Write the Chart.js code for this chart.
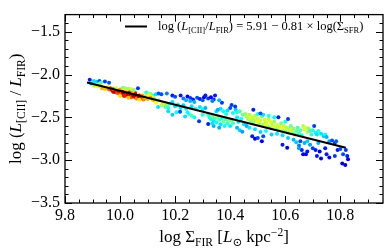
<!DOCTYPE html>
<html>
<head>
<meta charset="utf-8">
<script src="https://cdn.jsdelivr.net/npm/chart.js@4"></script>
<style>
  html, body { margin: 0; padding: 0; background: #fff; }
  #wrap { width: 390px; height: 250px; }
</style>
</head>
<body>
<div id="wrap"><canvas id="cii"></canvas></div>
<script>
// ticks
const xTicks = [9.8, 10.0, 10.2, 10.4, 10.6, 10.8];
const xMinor = [9.85, 9.9, 9.95, 10.05, 10.1, 10.15, 10.25, 10.3, 10.35, 10.45, 10.5, 10.55, 10.65, 10.7, 10.75, 10.85, 10.9];
const yTicks = [-3.5, -3.0, -2.5, -2.0, -1.5];
const yMinor = [-3.4, -3.3, -3.2, -3.1, -2.9, -2.8, -2.7, -2.6, -2.4, -2.3, -2.2, -2.1, -1.9, -1.8, -1.7, -1.6, -1.4];

// fit line end points (log L[CII]/L_FIR = 5.91 - 0.81 log Sigma)
const fitX = [9.88, 10.82];
const fitY = [-2.093, -2.854];

// points: log Sigma_FIR, log ratio, colour value (0 blue .. 1 red)
const pts = [
  [9.89,-2.06,0.15],[9.905,-2.075,0.35],[9.915,-2.085,0.33],[9.925,-2.075,0.2],[9.93,-2.095,0.4],[9.945,-2.08,0.18],[9.96,-2.095,0.2],[9.895,-2.105,0.3],[9.91,-2.115,0.45],
  [9.905,-2.13,0.55],[9.92,-2.14,0.6],[9.93,-2.135,0.65],[9.94,-2.15,0.62],[9.935,-2.16,0.7],[9.95,-2.155,0.72],[9.945,-2.17,0.68],[9.955,-2.14,0.62],[9.96,-2.175,0.78],[9.965,-2.16,0.8],[9.915,-2.125,0.62],[9.925,-2.11,0.5],
  [9.97,-2.18,0.88],[9.975,-2.19,0.9],[9.98,-2.17,0.85],[9.985,-2.2,0.92],[9.99,-2.185,0.95],[9.995,-2.21,0.9],[10.0,-2.195,0.95],[10.005,-2.22,0.88],[10.01,-2.2,0.97],[10.015,-2.23,0.92],[10.02,-2.21,0.95],[10.025,-2.24,0.9],[10.03,-2.22,0.97],[10.035,-2.25,0.88],[10.04,-2.23,0.95],[10.045,-2.255,0.9],[10.05,-2.24,0.92],[10.055,-2.265,0.86],[10.06,-2.25,0.95],[10.065,-2.27,0.9],[10.07,-2.26,0.85],[10.075,-2.28,0.82],[9.99,-2.215,0.8],[10.0,-2.23,0.78],[10.02,-2.245,0.82],[10.04,-2.265,0.8],[10.06,-2.28,0.75],[9.98,-2.205,0.85],[10.01,-2.235,0.85],[10.05,-2.225,0.97],
  [9.995,-2.19,0.93],[10.012,-2.215,0.96],[10.028,-2.232,0.93],[10.048,-2.248,0.96],[10.068,-2.255,0.93],[10.085,-2.27,0.88],[10.09,-2.28,0.85],[10.035,-2.205,0.9],[10.055,-2.215,0.88],[9.975,-2.2,0.93],[10.015,-2.25,0.86],[10.07,-2.245,0.9],
  [9.975,-2.165,0.75],[10.0,-2.175,0.72],[10.02,-2.185,0.7],[10.045,-2.2,0.72],[10.08,-2.245,0.72],[10.085,-2.29,0.75],[10.09,-2.255,0.68],[10.095,-2.27,0.62],[10.1,-2.285,0.7],[10.03,-2.27,0.68],[10.07,-2.295,0.65],[10.0,-2.25,0.65],
  [10.01,-2.155,0.5],[10.02,-2.16,0.55],[10.03,-2.165,0.52],[10.04,-2.17,0.58],[10.05,-2.18,0.5],[9.985,-2.16,0.58],
  [10.065,-2.16,0.18],[10.095,-2.21,0.38],[10.1,-2.22,0.45],[10.11,-2.225,0.5],[10.105,-2.235,0.62],[10.12,-2.245,0.4],[10.13,-2.23,0.35],[10.14,-2.22,0.2],[10.15,-2.23,0.2],[10.115,-2.26,0.6],[10.125,-2.28,0.55],[10.13,-2.33,0.62],[10.12,-2.3,0.68],[10.14,-2.3,0.5],[10.138,-2.378,0.35],[10.11,-2.27,0.72],
  [10.17,-2.22,0.25],[10.19,-2.245,0.15],[10.2,-2.26,0.2],[10.22,-2.245,0.15],[10.23,-2.28,0.25],[10.245,-2.255,0.12],[10.255,-2.275,0.18],[10.265,-2.29,0.15],[10.255,-2.31,0.3],[10.28,-2.27,0.2],[10.29,-2.285,0.15],[10.3,-2.3,0.22],[10.305,-2.265,0.12],[10.31,-2.245,0.15],[10.32,-2.28,0.18],[10.33,-2.265,0.12],[10.34,-2.29,0.18],[10.345,-2.245,0.15],[10.335,-2.31,0.25],[10.37,-2.33,0.18],[10.36,-2.3,0.3],[10.405,-2.356,0.18],[10.24,-2.3,0.3],[10.27,-2.32,0.3],
  [10.16,-2.35,0.6],[10.165,-2.38,0.45],[10.17,-2.36,0.5],[10.175,-2.39,0.4],[10.155,-2.33,0.65],[10.15,-2.36,0.55],[10.18,-2.34,0.38],[10.19,-2.32,0.35],[10.2,-2.37,0.35],[10.21,-2.35,0.38],[10.22,-2.39,0.36],[10.23,-2.36,0.33],[10.24,-2.4,0.38],[10.26,-2.37,0.35],[10.275,-2.4,0.4],[10.29,-2.38,0.35],[10.3,-2.405,0.38],[10.31,-2.39,0.3],
  [10.175,-2.43,0.35],[10.19,-2.47,0.33],[10.205,-2.44,0.38],[10.218,-2.433,0.2],[10.236,-2.49,0.35],[10.25,-2.46,0.4],[10.26,-2.48,0.45],[10.245,-2.44,0.38],[10.287,-2.544,0.18],[10.27,-2.5,0.38],[10.3,-2.47,0.42],
  [10.32,-2.47,0.45],[10.325,-2.5,0.4],[10.33,-2.52,0.38],[10.335,-2.49,0.48],[10.34,-2.54,0.36],[10.345,-2.51,0.45],[10.35,-2.56,0.38],[10.355,-2.5,0.5],[10.36,-2.53,0.45],[10.365,-2.58,0.35],[10.37,-2.51,0.4],[10.375,-2.55,0.48],[10.38,-2.6,0.38],[10.385,-2.52,0.45],[10.39,-2.57,0.42],[10.395,-2.54,0.5],[10.4,-2.6,0.36],[10.405,-2.53,0.48],[10.41,-2.57,0.45],[10.32,-2.578,0.15],[10.34,-2.6,0.3],[10.36,-2.62,0.3],[10.335,-2.57,0.35],
  [10.365,-2.4,0.35],[10.375,-2.43,0.38],[10.39,-2.42,0.35],[10.4,-2.39,0.2],[10.41,-2.45,0.38],[10.42,-2.41,0.33],[10.425,-2.44,0.4],[10.418,-2.374,0.18],[10.435,-2.43,0.45],[10.445,-2.47,0.48],[10.385,-2.46,0.4],[10.35,-2.43,0.35],[10.355,-2.41,0.3],
  [10.455,-2.46,0.52],[10.46,-2.49,0.55],[10.465,-2.52,0.5],[10.47,-2.47,0.56],[10.475,-2.54,0.52],[10.48,-2.5,0.58],[10.485,-2.56,0.5],[10.49,-2.48,0.55],[10.495,-2.53,0.58],[10.5,-2.51,0.56],[10.505,-2.57,0.52],[10.51,-2.54,0.58],[10.515,-2.49,0.52],[10.52,-2.58,0.55],[10.525,-2.53,0.58],[10.53,-2.56,0.56],[10.535,-2.6,0.5],[10.54,-2.52,0.55],[10.545,-2.62,0.52],[10.55,-2.57,0.58],[10.555,-2.6,0.56],[10.56,-2.55,0.52],[10.565,-2.63,0.5],[10.57,-2.59,0.57],[10.575,-2.65,0.52],[10.58,-2.61,0.58],[10.585,-2.57,0.5],[10.59,-2.64,0.55],[10.595,-2.6,0.56],[10.6,-2.66,0.52],[10.605,-2.62,0.55],[10.61,-2.68,0.5],[10.615,-2.64,0.54],[10.62,-2.6,0.48],[10.625,-2.67,0.52],[10.63,-2.63,0.5],[10.635,-2.7,0.45],[10.64,-2.66,0.48],[10.645,-2.62,0.45],[10.65,-2.69,0.42],[10.655,-2.65,0.45],[10.66,-2.71,0.4],
  [10.47,-2.51,0.58],[10.5,-2.545,0.6],[10.53,-2.585,0.6],[10.56,-2.61,0.6],[10.59,-2.62,0.6],[10.62,-2.65,0.58],[10.545,-2.55,0.6],[10.485,-2.53,0.55],
  [10.425,-2.5,0.36],[10.43,-2.55,0.33],[10.44,-2.52,0.38],[10.45,-2.58,0.35],[10.46,-2.6,0.3],[10.425,-2.62,0.3],[10.435,-2.65,0.33],[10.444,-2.667,0.28],[10.47,-2.62,0.36],[10.49,-2.64,0.35],[10.51,-2.67,0.33],[10.53,-2.66,0.38],[10.55,-2.7,0.33],[10.57,-2.69,0.36],[10.59,-2.71,0.35],[10.61,-2.74,0.33],[10.63,-2.76,0.3],[10.5,-2.46,0.38],[10.52,-2.47,0.35],[10.54,-2.48,0.4],[10.56,-2.5,0.38],[10.6,-2.55,0.38],
  [10.484,-2.41,0.15],[10.51,-2.455,0.2],[10.575,-2.5,0.15],[10.61,-2.52,0.18],[10.48,-2.72,0.15],[10.49,-2.75,0.12],[10.5,-2.74,0.18],[10.515,-2.78,0.12],[10.52,-2.72,0.2],[10.59,-2.82,0.15],[10.607,-2.856,0.12],[10.655,-2.78,0.2],[10.66,-2.88,0.15],[10.665,-2.93,0.12],[10.65,-2.83,0.25],
  [10.665,-2.6,0.55],[10.67,-2.64,0.58],[10.675,-2.62,0.6],[10.68,-2.67,0.55],[10.685,-2.63,0.5],[10.69,-2.66,0.45],[10.695,-2.7,0.42],[10.7,-2.65,0.4],[10.71,-2.68,0.38],[10.705,-2.6,0.18],[10.715,-2.7,0.35],[10.72,-2.66,0.4],
  [10.73,-2.69,0.35],[10.74,-2.72,0.33],[10.745,-2.7,0.38],[10.75,-2.73,0.3],[10.68,-2.78,0.33],[10.67,-2.8,0.3],[10.69,-2.82,0.28],[10.64,-2.79,0.32],[10.65,-2.86,0.28],[10.72,-2.8,0.3],[10.76,-2.78,0.28],
  [10.77,-2.77,0.2],[10.78,-2.8,0.18],[10.785,-2.78,0.22],[10.79,-2.88,0.15],[10.8,-2.87,0.2],[10.82,-2.88,0.18],[10.7,-2.86,0.18],[10.71,-2.88,0.15],[10.725,-2.9,0.12],[10.745,-2.86,0.15],[10.715,-2.95,0.15],[10.73,-2.98,0.12],[10.75,-2.93,0.15],[10.76,-2.97,0.12],[10.78,-2.95,0.18],[10.825,-2.95,0.15],[10.828,-2.99,0.12],[10.807,-3.04,0.08],[10.818,-3.055,0.08],[10.81,-2.93,0.2],[10.68,-2.9,0.15],[10.675,-2.93,0.12]
];

function jet(v) {
    const c = (t) => Math.round(255 * Math.max(0, Math.min(1, 1.5 - Math.abs(4 * v - t))));
    return `rgb(${c(3)},${c(2)},${c(1)})`;
}

const SERIF = '"Liberation Serif", "DejaVu Serif", serif';

// draw text with italic / sub / sup pieces; segs = [[text, kind], ...]
function richText(ctx, segs, x, y, size) {
    const parts = segs.map(([t, k]) => {
        const small = k === 'sub' || k === 'sup';
        const sz = small ? size * 0.68 : size;
        const font = (k === 'i' ? 'italic ' : '') + sz + 'px ' + SERIF;
        ctx.font = font;
        const dy = k === 'sub' ? size * 0.22 : (k === 'sup' ? -size * 0.38 : 0);
        return { t, font, dy, w: ctx.measureText(t).width };
    });
    const total = parts.reduce((s, p) => s + p.w, 0);
    let cx = x - total / 2;
    ctx.textBaseline = 'alphabetic';
    ctx.textAlign = 'left';
    parts.forEach(p => {
        ctx.font = p.font;
        ctx.fillText(p.t, cx, y + p.dy);
        cx += p.w;
    });
    return total;
}

const decor = {
    id: 'decor',
    afterDraw(chart) {
        const { ctx, chartArea: a, scales: { x, y } } = chart;
        ctx.save();
        ctx.strokeStyle = '#000';
        ctx.lineWidth = 1;
        ctx.beginPath();
        const tick = (vals, len) => {
            vals.forEach(v => {
                const px = Math.round(x.getPixelForValue(v)) + 0.5;
                ctx.moveTo(px, a.bottom); ctx.lineTo(px, a.bottom - len);
                ctx.moveTo(px, a.top); ctx.lineTo(px, a.top + len);
            });
        };
        const ytick = (vals, len) => {
            vals.forEach(v => {
                const py = Math.round(y.getPixelForValue(v)) + 0.5;
                ctx.moveTo(a.left, py); ctx.lineTo(a.left + len, py);
                ctx.moveTo(a.right, py); ctx.lineTo(a.right - len, py);
            });
        };
        tick(xTicks, 7); tick(xMinor, 3.5);
        ytick(yTicks, 7); ytick(yMinor, 3.5);
        ctx.stroke();
        ctx.lineWidth = 1.3;
        ctx.strokeRect(a.left, a.top, a.right - a.left, a.bottom - a.top);

        ctx.fillStyle = '#000';
        // x title
        richText(ctx, [['log Σ', 'n'], ['FIR', 'sub'], [' [', 'n'], ['L', 'i'], ['⊙', 'sub'], [' kpc', 'n'], ['−2', 'sup'], [']', 'n']],
            (a.left + a.right) / 2, 242, 17);
        // y title
        ctx.save();
        ctx.translate(21, (a.top + a.bottom) / 2);
        ctx.rotate(-Math.PI / 2);
        richText(ctx, [['log (', 'n'], ['L', 'i'], ['[CII]', 'sub'], [' / ', 'n'], ['L', 'i'], ['FIR', 'sub'], [')', 'n']], 0, 0, 17);
        ctx.restore();
        // legend
        ctx.lineWidth = 2;
        ctx.beginPath();
        ctx.moveTo(125, 26.5); ctx.lineTo(147, 26.5);
        ctx.stroke();
        const segs = [['log (', 'n'], ['L', 'i'], ['[CII]', 'sub'], ['/', 'n'], ['L', 'i'], ['FIR', 'sub'], [') = 5.91 − 0.81 × log(Σ', 'n'], ['SFR', 'sub'], [')', 'n']];
        const w = richText(ctx, segs, -1000, -1000, 12.5);
        richText(ctx, segs, 158 + w / 2, 30, 12.5);
        ctx.restore();
    }
};

const fmt = (v) => (v < 0 ? '−' : '') + Math.abs(v).toFixed(1);

new Chart(document.getElementById('cii'), {
    type: 'scatter',
    data: {
        datasets: [
            {
                type: 'line',
                data: fitX.map((v, i) => ({ x: v, y: fitY[i] })),
                borderColor: '#000',
                borderWidth: 2,
                pointRadius: 0,
                order: 0
            },
            {
                data: pts.map(p => ({ x: p[0], y: p[1] })),
                backgroundColor: pts.map(p => jet(p[2])),
                pointRadius: 2,
                borderWidth: 0,
                order: 1
            }
        ]
    },
    options: {
        responsive: true,
        maintainAspectRatio: false,
        animation: false,
        layout: { padding: { left: 0, right: 7, top: 4, bottom: 0 } },
        plugins: { legend: { display: false }, tooltip: { enabled: false } },
        scales: {
            x: {
                type: 'linear', min: 9.8, max: 10.955,
                afterBuildTicks: (s) => { s.ticks = xTicks.map(v => ({ value: v })); },
                afterFit: (s) => { s.height = 47; },
                grid: { display: false, drawTicks: false },
                border: { display: false },
                ticks: { padding: 3, color: '#000', font: { family: SERIF, size: 16 }, callback: fmt, maxRotation: 0, autoSkip: false }
            },
            y: {
                type: 'linear', min: -3.5, max: -1.3,
                afterBuildTicks: (s) => { s.ticks = yTicks.map(v => ({ value: v })); },
                afterFit: (s) => { s.width = 65; },
                grid: { display: false, drawTicks: false },
                border: { display: false },
                ticks: { padding: 5, color: '#000', font: { family: SERIF, size: 16 }, callback: fmt, autoSkip: false }
            }
        }
    },
    plugins: [decor]
});
</script>
</body>
</html>
